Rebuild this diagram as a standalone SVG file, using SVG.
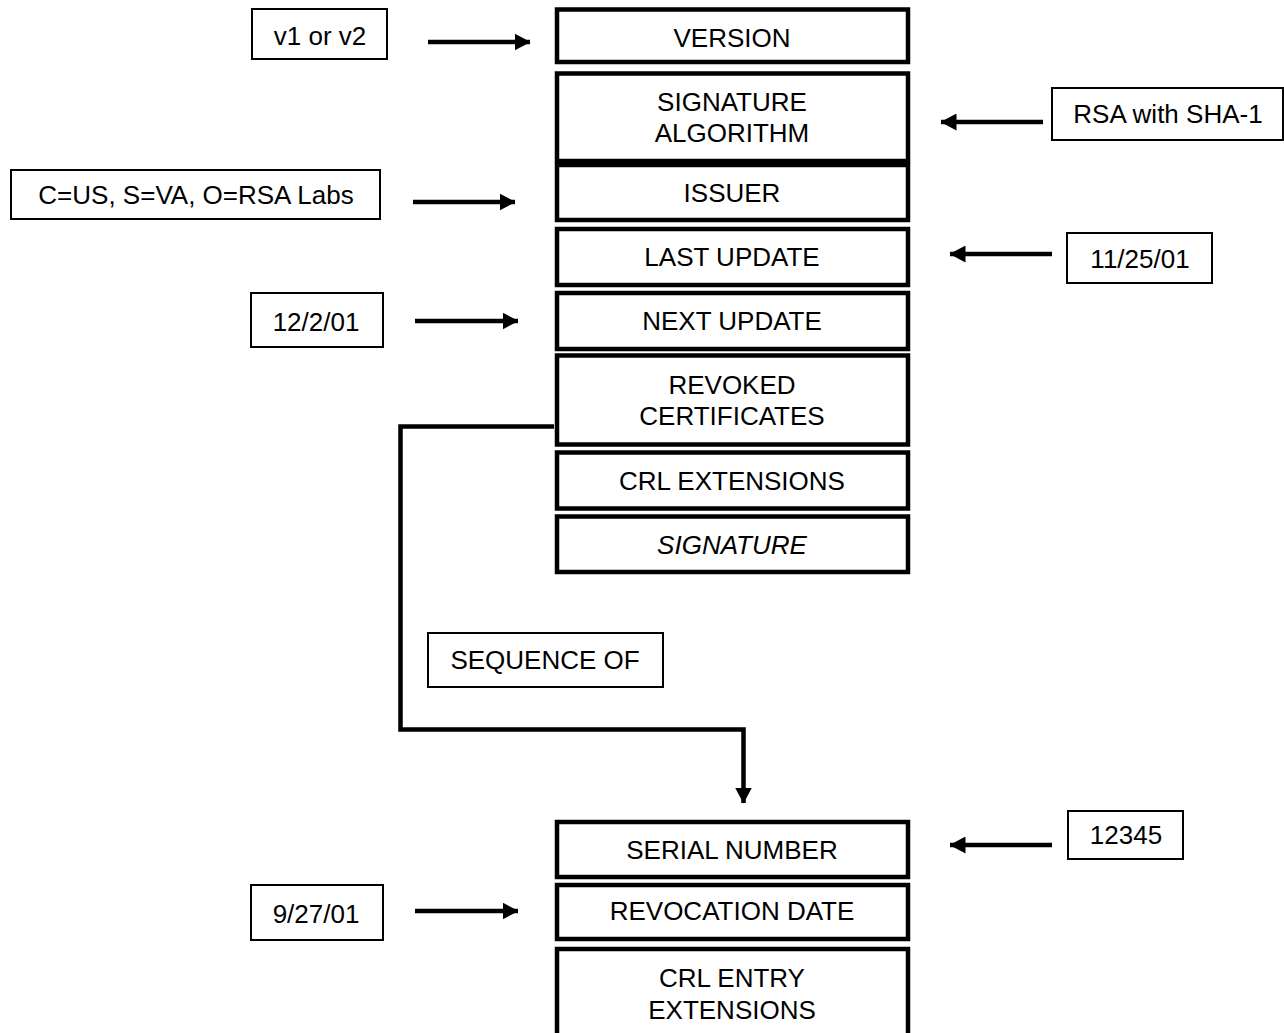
<svg xmlns="http://www.w3.org/2000/svg" width="1284" height="1033" viewBox="0 0 1284 1033">
<defs>
<style>
.field{fill:#fff;stroke:#000;stroke-width:4.5}
.label{fill:#fff;stroke:#000;stroke-width:2}
text{font-family:"Liberation Sans",Arial,sans-serif;font-size:26px;fill:#000;text-anchor:middle}
.conn{fill:none;stroke:#000;stroke-width:4.5}
</style>
<marker id="ah" markerWidth="16" markerHeight="17" refX="15.5" refY="8.5" orient="auto" markerUnits="userSpaceOnUse" viewBox="0 0 16 17">
<path d="M0,0 L16,8.5 L0,17 z" fill="#000"/>
</marker>
</defs>
<rect width="1284" height="1033" fill="#fff"/>

<g id="version"><rect class="field" x="557" y="9.5" width="351" height="52.5"/><text x="732" y="47">VERSION</text></g>
<g id="sigalg"><rect class="field" x="557" y="73.5" width="351" height="87.5"/><text x="732" y="111">SIGNATURE</text><text x="732" y="142">ALGORITHM</text></g>
<g id="issuer"><rect class="field" x="557" y="165" width="351" height="55"/><text x="732" y="202">ISSUER</text></g>
<g id="lastupdate"><rect class="field" x="557" y="229" width="351" height="56"/><text x="732" y="266">LAST UPDATE</text></g>
<g id="nextupdate"><rect class="field" x="557" y="293" width="351" height="56"/><text x="732" y="330">NEXT UPDATE</text></g>
<g id="revoked"><rect class="field" x="557" y="355.5" width="351" height="89"/><text x="732" y="394">REVOKED</text><text x="732" y="425">CERTIFICATES</text></g>
<g id="crlext"><rect class="field" x="557" y="452.5" width="351" height="56"/><text x="732" y="490">CRL EXTENSIONS</text></g>
<g id="signature"><rect class="field" x="557" y="516.5" width="351" height="55.5"/><text x="732" y="554" font-style="italic">SIGNATURE</text></g>

<g id="serial"><rect class="field" x="557" y="822" width="351" height="55"/><text x="732" y="859">SERIAL NUMBER</text></g>
<g id="revdate"><rect class="field" x="557" y="885" width="351" height="54"/><text x="732" y="920">REVOCATION DATE</text></g>
<g id="entryext"><rect class="field" x="557" y="949" width="351" height="100"/><text x="732" y="987">CRL ENTRY</text><text x="732" y="1019">EXTENSIONS</text></g>

<g id="lbl-version"><rect class="label" x="252" y="9" width="135" height="50"/><text x="320" y="45">v1 or v2</text></g>
<g id="lbl-sigalg"><rect class="label" x="1052" y="88" width="231" height="52"/><text x="1168" y="123">RSA with SHA-1</text></g>
<g id="lbl-issuer"><rect class="label" x="11" y="170" width="369" height="49"/><text x="196" y="204">C=US, S=VA, O=RSA Labs</text></g>
<g id="lbl-last"><rect class="label" x="1067" y="233" width="145" height="50"/><text x="1140" y="268">11/25/01</text></g>
<g id="lbl-next"><rect class="label" x="251" y="293" width="132" height="54"/><text x="316" y="331">12/2/01</text></g>
<g id="lbl-seq"><rect class="label" x="428" y="633" width="235" height="54"/><text x="545" y="669">SEQUENCE OF</text></g>
<g id="lbl-serial"><rect class="label" x="1068" y="811" width="115" height="48"/><text x="1126" y="844">12345</text></g>
<g id="lbl-revdate"><rect class="label" x="251" y="885" width="132" height="55"/><text x="316" y="923">9/27/01</text></g>

<g id="connectors">
<line class="conn" x1="428" y1="42" x2="530" y2="42" marker-end="url(#ah)"/>
<line class="conn" x1="1043" y1="122" x2="941" y2="122" marker-end="url(#ah)"/>
<line class="conn" x1="413" y1="202" x2="515" y2="202" marker-end="url(#ah)"/>
<line class="conn" x1="1052" y1="254" x2="950" y2="254" marker-end="url(#ah)"/>
<line class="conn" x1="415" y1="321" x2="518" y2="321" marker-end="url(#ah)"/>
<line class="conn" x1="1052" y1="845" x2="950" y2="845" marker-end="url(#ah)"/>
<line class="conn" x1="415" y1="911" x2="518" y2="911" marker-end="url(#ah)"/>
<path class="conn" d="M554,426.5 H400.5 V729.5 H743.5 V803" marker-end="url(#ah)"/>
</g>
</svg>
